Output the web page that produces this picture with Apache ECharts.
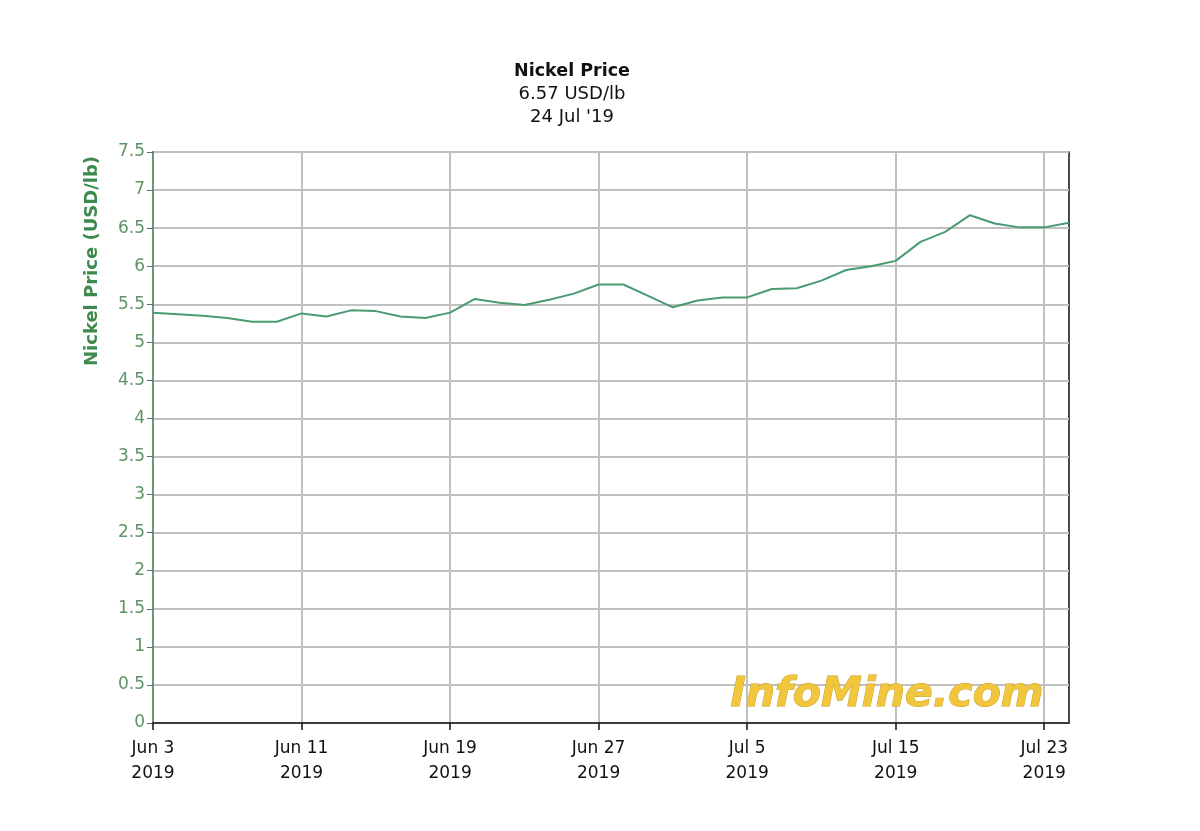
<!DOCTYPE html>
<html>
<head>
<meta charset="utf-8">
<script src="https://cdn.jsdelivr.net/npm/echarts@6/dist/echarts.min.js"></script>
<style>html,body{margin:0;padding:0;background:#fff;}#c{width:1200px;height:831px;}</style>
</head>
<body>
<div id="c"></div>
<script>
var dates = ["Jun 3","Jun 4","Jun 5","Jun 6","Jun 7","Jun 10","Jun 11","Jun 12","Jun 13","Jun 14",
  "Jun 17","Jun 18","Jun 19","Jun 20","Jun 21","Jun 24","Jun 25","Jun 26","Jun 27","Jun 28",
  "Jul 1","Jul 2","Jul 3","Jul 4","Jul 5","Jul 8","Jul 9","Jul 10","Jul 11","Jul 12",
  "Jul 15","Jul 16","Jul 17","Jul 18","Jul 19","Jul 22","Jul 23","Jul 24"];
var prices = [5.39,5.37,5.35,5.32,5.27,5.27,5.38,5.34,5.42,5.41,
  5.34,5.32,5.39,5.57,5.52,5.49,5.56,5.64,5.76,5.76,
  5.61,5.46,5.55,5.59,5.59,5.70,5.71,5.81,5.95,6.00,
  6.07,6.32,6.45,6.67,6.56,6.51,6.51,6.57];
var titleLines = ["Nickel Price","6.57 USD/lb","24 Jul '19"];
var yAxisName = "Nickel Price (USD/lb)";
var labelYear = "2019";

var FONT = '"DejaVu Sans", "Liberation Sans", Arial, sans-serif';
var chart = echarts.init(document.getElementById('c'));
var every6 = function (i) { return i % 6 === 0; };
chart.setOption({
  animation: false,
  backgroundColor: '#fff',
  textStyle: { fontFamily: FONT },
  grid: { left: 153, right: 131, top: 152, bottom: 108, show: true, borderColor: '#111', borderWidth: 1.5, backgroundColor: 'transparent' },
  graphic: [
    { type: 'text', x: 572, y: 71, style: { text: titleLines[0], font: 'bold 17.5px ' + FONT, fill: '#111', textAlign: 'center', textVerticalAlign: 'middle' } },
    { type: 'text', x: 572, y: 94, style: { text: titleLines[1], font: '18px ' + FONT, fill: '#111', textAlign: 'center', textVerticalAlign: 'middle' } },
    { type: 'text', x: 572, y: 117, style: { text: titleLines[2], font: '18px ' + FONT, fill: '#111', textAlign: 'center', textVerticalAlign: 'middle' } },
    { type: 'text', x: 92, y: 261, rotation: Math.PI / 2, style: { text: yAxisName, font: 'bold 18px ' + FONT, fill: '#3d8a4d', textAlign: 'center', textVerticalAlign: 'middle' } },
    { type: 'text', x: 887, y: 695, z: 1, style: { text: 'InfoMine.com', font: 'italic 900 41px "DejaVu Sans", Arial', fill: '#f2c63c', stroke: '#c9a02a', lineWidth: 1, textAlign: 'center', textVerticalAlign: 'middle', shadowColor: 'rgba(90,70,20,0.6)', shadowOffsetX: 3, shadowOffsetY: 3, shadowBlur: 2 } }
  ],
  xAxis: {
    type: 'category',
    data: dates,
    boundaryGap: false,
    axisLine: { show: true, lineStyle: { color: '#111', width: 1.5 } },
    axisTick: { show: true, interval: every6, length: 7, lineStyle: { color: '#111', width: 1.5 } },
    axisLabel: {
      interval: every6, color: '#111', fontSize: 17, lineHeight: 25, margin: 13,
      formatter: function (v) { return v + '\n' + labelYear; }
    },
    splitLine: { show: true, interval: every6, lineStyle: { color: '#c0c0c0', width: 2 } }
  },
  yAxis: {
    type: 'value',
    min: 0, max: 7.5, interval: 0.5,
    axisLine: { show: true, lineStyle: { color: '#4f8a5a', width: 1.5 } },
    axisTick: { show: true, length: 6, lineStyle: { color: '#666' } },
    axisLabel: { color: '#5e9466', fontSize: 17, margin: 8 },
    splitLine: { show: true, lineStyle: { color: '#c0c0c0', width: 2 } }
  },
  series: [{
    type: 'line',
    data: prices,
    symbol: 'none',
    z: 5,
    lineStyle: { color: '#4a9a72', width: 2 }
  }]
});
</script>
</body>
</html>
